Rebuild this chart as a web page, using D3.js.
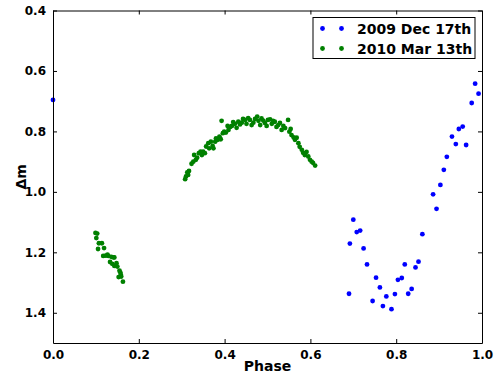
<!DOCTYPE html>
<html>
<head>
<meta charset="utf-8">
<script src="https://cdn.jsdelivr.net/npm/d3@7.9.0/dist/d3.min.js"></script>
<style>
  body { margin: 0; background: #fff; }
  svg { font-family: "DejaVu Sans", sans-serif; font-weight: bold; }
</style>
</head>
<body>
<svg id="chart" width="499" height="376"></svg>
<script>
// series names
const seriesNames = ['2009 Dec 17th', '2010 Mar 13th'];

// 2009 Dec 17th (blue) : phase, delta m
const decPhase = [0.0, 0.690, 0.692, 0.700, 0.708, 0.716, 0.724, 0.732, 0.745, 0.753, 0.762, 0.769,
  0.777, 0.789, 0.797, 0.804, 0.813, 0.820, 0.828, 0.836, 0.845, 0.852, 0.861, 0.886, 0.894,
  0.903, 0.911, 0.918, 0.930, 0.939, 0.946, 0.955, 0.963, 0.976, 0.984, 0.992];
const decMag = [0.696, 1.337, 1.171, 1.092, 1.133, 1.128, 1.187, 1.240, 1.361, 1.284, 1.316, 1.378,
  1.346, 1.388, 1.338, 1.291, 1.285, 1.240, 1.337, 1.321, 1.250, 1.231, 1.140, 1.008, 1.056,
  0.977, 0.927, 0.884, 0.817, 0.842, 0.792, 0.784, 0.845, 0.706, 0.642, 0.675];

// 2010 Mar 13th (green) : phase, delta m
const marPhase = [0.099, 0.103, 0.101, 0.107, 0.114, 0.105, 0.119, 0.117, 0.123, 0.127, 0.129, 0.133,
  0.136, 0.141, 0.143, 0.138, 0.143, 0.148, 0.150, 0.155, 0.157, 0.153, 0.159, 0.158, 0.163,
  0.308, 0.310, 0.313, 0.317, 0.315, 0.323, 0.327, 0.329, 0.333, 0.336, 0.340, 0.344, 0.347,
  0.350, 0.354, 0.357, 0.362, 0.364, 0.368, 0.372, 0.374, 0.378, 0.380, 0.384, 0.388, 0.391,
  0.393, 0.396, 0.399, 0.403, 0.407, 0.409, 0.413, 0.417, 0.420, 0.424, 0.428, 0.432, 0.436,
  0.440, 0.443, 0.448, 0.451, 0.455, 0.459, 0.463, 0.467, 0.471, 0.476, 0.479, 0.483, 0.486,
  0.490, 0.494, 0.498, 0.501, 0.506, 0.510, 0.513, 0.517, 0.521, 0.525, 0.529, 0.533, 0.537,
  0.541, 0.548, 0.551, 0.554, 0.556, 0.561, 0.564, 0.568, 0.572, 0.575, 0.580, 0.583, 0.587,
  0.591, 0.595, 0.599, 0.603, 0.606, 0.611];
const marMag = [1.136, 1.138, 1.153, 1.170, 1.170, 1.189, 1.186, 1.212, 1.211, 1.208, 1.212, 1.232,
  1.215, 1.217, 1.217, 1.238, 1.245, 1.236, 1.247, 1.261, 1.267, 1.282, 1.280, 1.274, 1.297,
  0.958, 0.949, 0.936, 0.931, 0.944, 0.907, 0.900, 0.878, 0.894, 0.887, 0.872, 0.867, 0.878,
  0.867, 0.872, 0.850, 0.839, 0.856, 0.834, 0.848, 0.856, 0.834, 0.823, 0.828, 0.817, 0.826,
  0.765, 0.806, 0.801, 0.804, 0.782, 0.795, 0.785, 0.782, 0.769, 0.775, 0.788, 0.768, 0.777,
  0.771, 0.759, 0.762, 0.775, 0.756, 0.762, 0.779, 0.771, 0.759, 0.751, 0.765, 0.779, 0.757,
  0.764, 0.772, 0.782, 0.762, 0.760, 0.775, 0.765, 0.768, 0.785, 0.779, 0.772, 0.795, 0.782,
  0.789, 0.762, 0.801, 0.792, 0.812, 0.820, 0.828, 0.821, 0.839, 0.851, 0.861, 0.871, 0.878,
  0.868, 0.883, 0.894, 0.900, 0.904, 0.913];

const xTicks = [0.0, 0.2, 0.4, 0.6, 0.8, 1.0];
const yTicks = [0.4, 0.6, 0.8, 1.0, 1.2, 1.4];

const colors = ['#0000ff', '#008000'];

const margin = { left: 53, right: 17, top: 10.5, bottom: 33 };
const width = 499, height = 376;
const svg = d3.select('#chart');

const x = d3.scaleLinear().domain([0, 1]).range([margin.left, width - margin.right]);
const y = d3.scaleLinear().domain([0.4, 1.5]).range([margin.top, height - margin.bottom]);

// points
const series = [
  decPhase.map((p, i) => [p, decMag[i]]),
  marPhase.map((p, i) => [p, marMag[i]])
];

series.forEach((pts, k) => {
  svg.append('g')
    .selectAll('circle')
    .data(pts)
    .join('circle')
    .attr('cx', d => x(d[0]))
    .attr('cy', d => y(d[1]))
    .attr('r', 2.4)
    .attr('fill', colors[k]);
});

// axes with inward ticks
const tickLen = 4;
const fmt = d3.format('.1f');
const gx = svg.append('g').attr('transform', `translate(0,${y(1.5)})`)
  .call(d3.axisBottom(x).tickValues(xTicks).tickFormat(fmt).tickSizeInner(-tickLen).tickSizeOuter(0).tickPadding(7));
const gxTop = svg.append('g').attr('transform', `translate(0,${y(0.4)})`)
  .call(d3.axisTop(x).tickValues(xTicks).tickFormat('').tickSizeInner(-tickLen).tickSizeOuter(0));
const gy = svg.append('g').attr('transform', `translate(${x(0)},0)`)
  .call(d3.axisLeft(y).tickValues(yTicks).tickFormat(fmt).tickSizeInner(-tickLen).tickSizeOuter(0).tickPadding(7));
const gyRight = svg.append('g').attr('transform', `translate(${x(1)},0)`)
  .call(d3.axisRight(y).tickValues(yTicks).tickFormat('').tickSizeInner(-tickLen).tickSizeOuter(0));

[gx, gxTop, gy, gyRight].forEach(g => {
  g.selectAll('text').attr('font-family', '"DejaVu Sans", sans-serif').attr('font-weight', 'bold')
    .attr('font-size', 12).attr('fill', '#000');
  g.selectAll('line').attr('stroke', '#000');
  g.select('.domain').attr('stroke', '#000');
});

// axis labels
svg.append('text')
  .attr('x', (x(0) + x(1)) / 2)
  .attr('y', 371)
  .attr('text-anchor', 'middle')
  .attr('font-size', 14)
  .text('Phase');

svg.append('text')
  .attr('transform', `translate(26,${(y(0.4) + y(1.5)) / 2}) rotate(-90)`)
  .attr('text-anchor', 'middle')
  .attr('font-size', 14)
  .text('Δm');

// legend
const legend = svg.append('g');
legend.append('rect')
  .attr('x', 313).attr('y', 17.5)
  .attr('width', 162).attr('height', 41)
  .attr('fill', '#fff').attr('stroke', '#000');

seriesNames.forEach((name, k) => {
  const ly = 28.5 + k * 20;
  [322.5, 341.5].forEach(lx => {
    legend.append('circle').attr('cx', lx).attr('cy', ly).attr('r', 2.4).attr('fill', colors[k]);
  });
  legend.append('text')
    .attr('x', 357).attr('y', ly + 5)
    .attr('font-size', 14)
    .text(name);
});
</script>
</body>
</html>
